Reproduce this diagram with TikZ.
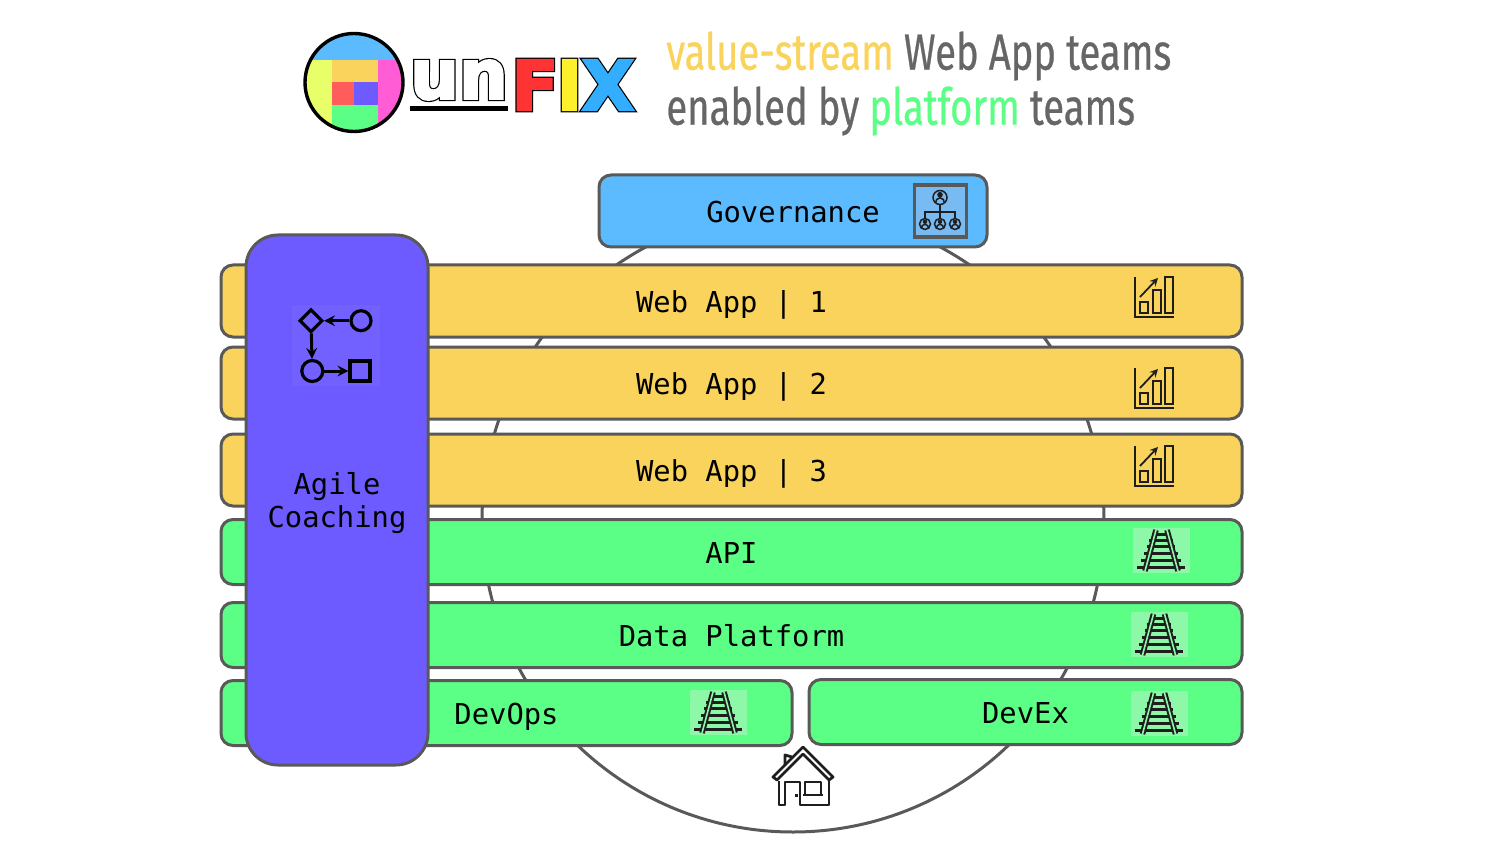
\documentclass[tikz,border=0pt]{standalone}
\usepackage{fontspec}
\usetikzlibrary{shapes.geometric}
\setmonofont{DejaVu Sans Mono}
\newfontfamily\titlefont[FakeStretch=0.75,FakeBold=0.5]{Fira Sans}
\newfontfamily\logofont[FakeBold=3.5]{DejaVu Sans Bold}
\newfontfamily\logoedge[FakeBold=7]{DejaVu Sans Bold}
\definecolor{linegray}{HTML}{595959}
\definecolor{titlegray}{HTML}{666666}
\definecolor{icondark}{HTML}{1E1E1E}
\definecolor{valuegold}{HTML}{F9D35C}
\definecolor{platgreen}{HTML}{5CFF85}
\definecolor{railback}{HTML}{8DF9A8}
\definecolor{govblue}{HTML}{5CBBFF}
\definecolor{orgback}{HTML}{78BAF2}
\definecolor{coachpurple}{HTML}{6E5BFF}
\definecolor{coachback}{HTML}{7361FF}
\definecolor{logored}{HTML}{FF5C5C}
\definecolor{logoyellow}{HTML}{E8FF6A}
\definecolor{logopink}{HTML}{FF5CD6}
\definecolor{fixred}{HTML}{FF3333}
\definecolor{fixyellow}{HTML}{FFF02E}
\definecolor{fixblue}{HTML}{33AEFF}
\def\px{0.02cm}
% black emboldened copy under the coloured letter
\newcommand{\outlined}[2]{\rlap{\logoedge\textcolor{black}{#2}}\textcolor{#1}{#2}}
\tikzset{
  bar/.style={draw=linegray,line width=3*\px,rounded corners=12*\px,inner sep=0pt,
              font=\ttfamily\fontsize{16.4}{18.8}\selectfont,text=black},
  one line/.style={text height=15pt,text depth=2.4pt},
  value bar/.style={bar,one line,fill=valuegold,minimum height=72*\px},
  platform bar/.style={bar,one line,fill=platgreen,minimum height=65*\px},
  title line/.style={anchor=west,inner sep=0pt,font=\titlefont\fontsize{29}{32}\selectfont,text=titlegray},
  logo letter/.style={inner sep=0pt,font=\logofont\fontsize{39}{39}\selectfont},
  flow shape/.style={draw=black,line width=3.2*\px,inner sep=0pt},
  flow arrow/.style={black,line width=3*\px,->,>=stealth},
  person node/.style={circle,draw=icondark,line width=1.5*\px,inner sep=0pt,minimum size=#1*\px,
    path picture={
      \fill[icondark] (path picture bounding box.center)++(0,-0.2*#1) circle (0.2*#1);
      \draw[icondark,line width=1.5*\px] (path picture bounding box.center)++(-0.33*#1,0.42*#1)
         to[out=90,in=180] ++(0.33*#1,-0.4*#1) to[out=0,in=90] ++(0.33*#1,0.4*#1);
    }},
  chart icon/.pic={
    \draw[icondark,line width=1.8*\px] (-20,-20) -- (-20,20) -- (19,20);
    \draw[icondark,line width=1.8*\px] (-15,5) rectangle (-7,16) (-2,-7) rectangle (6,16) (10,-20) rectangle (18,16);
    \draw[icondark,line width=1.8*\px,->,>=stealth] (-15,0) -- (3,-19);
  },
  rail icon/.pic={
    \fill[railback] (-28,-22) rectangle (29,23);
    \foreach \yy/\halfw in {-16/9,-10/12,-4/14,3/17,10/20,17/24}
      \draw[icondark,line width=3*\px] (-\halfw,\yy) -- (\halfw,\yy);
    \draw[icondark,line width=2*\px,double=railback,double distance=1.6*\px] (-5,-20) -- (-16,21);
    \draw[icondark,line width=2*\px,double=railback,double distance=1.6*\px] (6,-20) -- (17,21);
  }
}
\begin{document}
\begin{tikzpicture}[x=0.02cm,y=-0.02cm]
\useasboundingbox (0,0) rectangle (1500,844);

% logo
\begin{scope}
\clip (354,82.5) circle (49);
\fill[govblue] (300,30) rectangle (410,60);
\fill[logoyellow] (300,60) rectangle (332,135);
\fill[valuegold] (332,60) rectangle (378,82);
\fill[logored] (332,82) rectangle (354,105);
\fill[coachpurple] (354,82) rectangle (378,105);
\fill[platgreen] (332,105) rectangle (378,135);
\fill[logopink] (378,60) rectangle (410,135);
\end{scope}
\draw[black,line width=3.4*\px] (354,82.5) circle (49);
\node at (459,80) [logo letter] (un) {\outlined{white}{un}};
\fill[black] (410,106) rectangle (508,111);
\node at (535,85) [logo letter] (F) {\outlined{fixred}{F}};
\node at (569.5,85) [logo letter] (I) {\outlined{fixyellow}{I}};
\node at (608,85) [logo letter] (X) {\outlined{fixblue}{X}};

% title
\node at (666,56) [title line] (line1) {\textcolor{valuegold}{value-stream} Web App teams};
\node at (666,111) [title line] (line2) {enabled by \textcolor{platgreen}{platform} teams};

% big circle behind the bars
\draw[linegray,line width=3*\px] (793,521) circle (311);

% bars
\node at (793,211) [bar,one line,fill=govblue,minimum width=388*\px,minimum height=72*\px] (gov) {Governance};
\node at (731.5,301) [value bar,minimum width=1021*\px] (web1) {Web App | 1};
\node at (731.5,383) [value bar,minimum width=1021*\px] (web2) {Web App | 2};
\node at (731.5,470) [value bar,minimum width=1021*\px] (web3) {Web App | 3};
\node at (731.5,552) [platform bar,minimum width=1021*\px] (api) {API};
\node at (731.5,635) [platform bar,minimum width=1021*\px] (data) {Data Platform};
\node at (506.5,713) [platform bar,minimum width=571*\px] (devops) {DevOps};
\node at (1025.5,712) [platform bar,minimum width=433*\px] (devex) {DevEx};
\node at (337,500) [bar,fill=coachpurple,rounded corners=32*\px,minimum width=182*\px,minimum height=530*\px,align=center] (coach) {\rule{0pt}{16pt}Agile\\Coaching};

% governance icon
\node at (940.3,211) [draw=linegray,fill=orgback,line width=3.5*\px,minimum size=52*\px,inner sep=0pt] (org) {};
\node at (940,197.5) [person node=14] (boss) {};
\node at (925,224) [person node=11] (p1) {};
\node at (940,224) [person node=11] (p2) {};
\node at (955,224) [person node=11] (p3) {};
\draw[icondark,line width=1.5*\px] (boss) -- (p2) (p1) -- ++(0,-12) -| (p3);

% coaching icon
\fill[coachback] (292,305) rectangle (380,386);
\node at (311,320.7) [flow shape,diamond,minimum size=23*\px] (fd) {};
\node at (361,320.7) [flow shape,circle,minimum size=20*\px] (fa) {};
\node at (312.3,371) [flow shape,circle,minimum size=21*\px] (fb) {};
\node at (360,371) [flow shape,minimum size=20*\px] (fc) {};
\draw[flow arrow] (fa) -- (fd);
\draw[flow arrow] (fd) -- (fb);
\draw[flow arrow] (fb) -- (fc);

% bar icons
\pic at (1155,297) {chart icon};
\pic at (1155,388) {chart icon};
\pic at (1155,466) {chart icon};
\pic at (1161,550) {rail icon};
\pic at (1158.5,634) {rail icon};
\pic at (718,712) {rail icon};
\pic at (1158.5,713) {rail icon};

% house
\begin{scope}[icondark,line width=2.8*\px,line join=round]
\draw (773,777) -- (803,747) -- (833,777) -- (829,780) -- (803,754) -- (777,780) -- cycle;
\draw (785,765) -- (785,755) -- (792,757);
\draw (779,781) -- (779,805) -- (785,805) -- (785,782) -- (800,782) -- (800,805) -- (829,805) -- (829,779);
\draw (805,782) rectangle (821,795) (803,795) -- (823,795);
\draw (795,795.5) -- (798,795.5);
\end{scope}
\end{tikzpicture}
\end{document}
